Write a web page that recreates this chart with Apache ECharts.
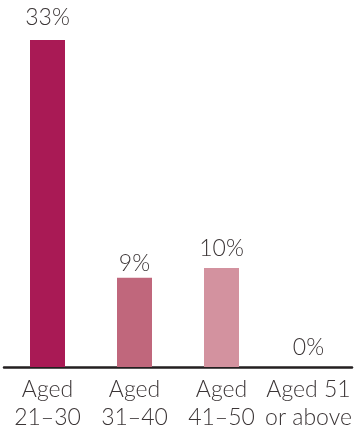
<!DOCTYPE html>
<html>
<head>
<meta charset="utf-8">
<style>
  html, body { margin: 0; padding: 0; background: #fff; }
  #chart { width: 358px; height: 430px; }
</style>
<script src="https://cdn.jsdelivr.net/npm/echarts@6/dist/echarts.min.js"></script>
</head>
<body>
<div id="chart"></div>
<script>
// Age groups and share of respondents (%)
const categories = ['Aged\n21–30', 'Aged\n31–40', 'Aged\n41–50', 'Aged 51\nor above'];
const shares = [33, 9, 10, 0];

const barColors = ['#a91a55', '#c0677c', '#d3929f', '#d3929f'];
const labelGaps = [11, 3, 8, 8];
const textColor = '#3b3536';
const fontFamily = 'Lato, "Open Sans", sans-serif';

const chart = echarts.init(document.getElementById('chart'), null, { renderer: 'canvas' });
chart.setOption({
  animation: false,
  grid: { left: 4, right: 6, top: 40, bottom: 63, outerBoundsMode: 'none', containLabel: false },
  xAxis: {
    type: 'category',
    data: categories,
    axisLine: { show: true, lineStyle: { color: '#231f20', width: 2.5 } },
    axisTick: { show: false },
    axisLabel: {
      color: textColor,
      fontFamily: fontFamily,
      fontWeight: 300,
      fontSize: 23,
      lineHeight: 28,
      margin: 9,
      interval: 0
    }
  },
  yAxis: {
    type: 'value',
    min: 0,
    max: 33,
    show: false,
    splitLine: { show: false }
  },
  series: [{
    type: 'bar',
    barWidth: 35,
    data: shares.map((v, i) => ({
      value: v,
      itemStyle: { color: barColors[i] },
      label: { distance: labelGaps[i] }
    })),
    label: {
      show: true,
      position: 'top',
      formatter: '{c}%',
      color: textColor,
      fontFamily: fontFamily,
      fontWeight: 300,
      fontSize: 23
    }
  }]
});
</script>
</body>
</html>
